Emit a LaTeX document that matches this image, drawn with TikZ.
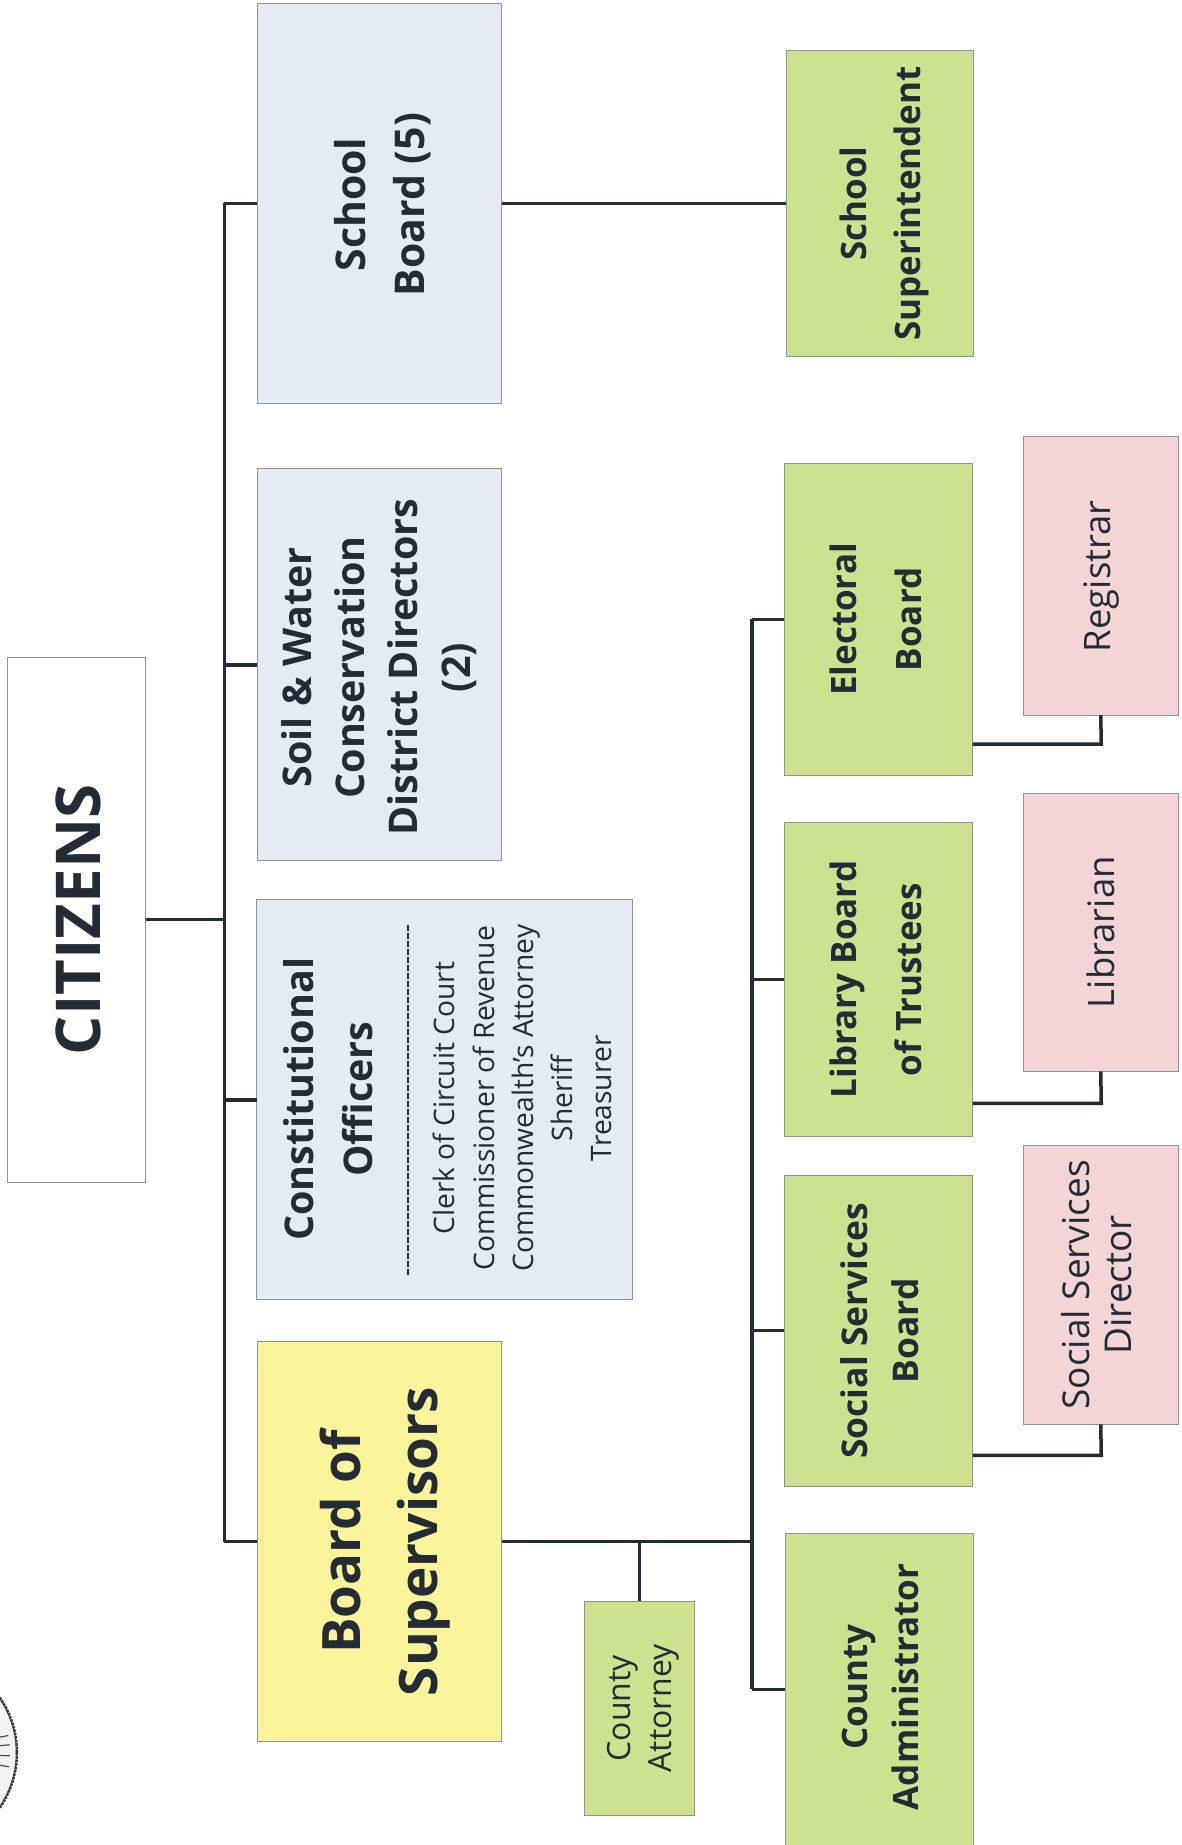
\documentclass[tikz,border=0pt]{standalone}
\usepackage{fontspec}
\setmainfont{Open Sans}
\definecolor{ink}{HTML}{232C35}
\definecolor{edge}{HTML}{8F9499}
\definecolor{bluebox}{HTML}{E4EBF3}
\definecolor{yelbox}{HTML}{FBF49B}
\definecolor{grnbox}{HTML}{CDE28F}
\definecolor{pinkbox}{HTML}{F3D5D5}
\newcommand{\fsz}[2]{\fontsize{#1pt}{#2pt}\selectfont}
% \bx{name}{style}{x1}{y1}{x2}{y2}{text options}{text}
\newcommand{\bx}[8]{%
  \pgfmathsetmacro{\bw}{(#6-#4)*0.9975}\pgfmathsetmacro{\bh}{(#5-#3)*0.9975}%
  \node[boxbase,#2,minimum width=\bw pt,minimum height=\bh pt] (#1) at ({(#3+#5)/2},{(#4+#6)/2}) {};
  \node[#7,rottext] (#1text) at (#1.center) {#8};}
\tikzset{
  boxbase/.style={draw=edge,line width=1pt,rotate=90,inner sep=0pt,outer sep=0pt},
  blue/.style={fill=bluebox},
  yel/.style={fill=yelbox},
  grn/.style={fill=grnbox},
  pnk/.style={fill=pinkbox},
  wire/.style={draw=ink,line width=3.5pt,line cap=butt,line join=miter},
  rottext/.style={rotate=90,align=center,text=ink,inner sep=0pt},
}
\begin{document}
\begin{tikzpicture}[x=0.9975pt,y=-0.9975pt]
\useasboundingbox (0,0) rectangle (1184,1849.6);
\fill[white] (0,0) rectangle (1184,1849.6);
% seal fragment
\begin{scope}
\clip (0,1680) rectangle (30,1820);
\fill[black!5] (-80,1757) circle (97);
\draw[black!80,line width=2.5pt,densely dotted] (-80,1757) circle (97);
\draw[black!75,line width=1pt] (-80,1757) circle (96.5);
\foreach \a in {-11,-5,2,9}{\draw[black!70,line width=1.2pt] (-80,1757) ++(\a:80) -- ++(\a:10);}
\end{scope}
% coordinates of buses
\coordinate (bus) at (225,900);
\coordinate (bus2) at (754,1200);
% boxes
\bx{citizens}{fill=white}{8}{659}{146}{1185}{font=\fsz{61.8}{72}\bfseries,xshift=2pt}{CITIZENS}
\bx{school}{blue}{258}{4}{503}{404}{font=\fsz{41}{59}\bfseries,xshift=3pt,yshift=-1pt}{School\\Board (5)}
\bx{soil}{blue}{258}{470}{503}{863}{font=\fsz{39.5}{53}\bfseries,xshift=0pt,yshift=-2.5pt}{Soil \& Water\\Conservation\\District Directors\\(2)}
\node[boxbase,blue,minimum width=400pt,minimum height=376pt] (const) at (446,1102.5) {};
\bx{bos}{yel}{258}{1345}{503}{1746}{font=\fsz{53}{77}\bfseries,xshift=6pt}{Board of\\Supervisors}
\bx{attorney}{grn}{586}{1605}{696}{1820}{font=\fsz{32}{41},xshift=3.5pt}{County\\Attorney}
\bx{admin}{grn}{787}{1537}{976}{1850}{font=\fsz{35}{50.5}\bfseries,xshift=1pt,yshift=2.4pt}{County\\Administrator}
\bx{ssb}{grn}{786}{1178}{975}{1490}{font=\fsz{35.4}{51}\bfseries,xshift=1pt}{Social Services\\Board}
\bx{lib}{grn}{786}{825}{975}{1139}{font=\fsz{35}{65}\bfseries,xshift=-2pt}{Library Board\\of Trustees}
\bx{elec}{grn}{786}{465}{975}{777}{font=\fsz{35}{65}\bfseries,xshift=-2pt}{Electoral\\Board}
\bx{super}{grn}{788}{51}{976}{357}{font=\fsz{35}{54}\bfseries,xshift=4.5pt}{School\\Superintendent}
\bx{reg}{pnk}{1026}{438}{1181}{717}{font=\fsz{36.5}{40},xshift=1pt}{Registrar}
\bx{libn}{pnk}{1026}{795}{1181}{1074}{font=\fsz{36.5}{40},xshift=0pt}{Librarian}
\bx{ssd}{pnk}{1026}{1148}{1181}{1428}{font=\fsz{37}{42.5},xshift=-4pt}{Social Services\\Director}
% constitutional contents
\node[rottext,font=\fsz{39.5}{59}\bfseries] (ctitle) at (329,1102) {Constitutional\\Officers};
\coordinate (dash1) at (409,927);
\coordinate (dash2) at (409,1278);
\draw[ink,line width=1.5pt,dash pattern=on 6pt off 2pt] (dash1) -- (dash2);
\node[rottext,font=\fsz{28.2}{39.3}] (cdetail) at (524,1101) {Clerk of Circuit Court\\Commissioner of Revenue\\Commonwealth’s Attorney\\Sheriff\\Treasurer};
% connectors
\draw[wire] (school.north -| bus) -- (bos.north -| bus);
\draw[wire] (citizens.south) -- (citizens.south -| bus);
\draw[wire] (school.north) -- (school.north -| bus);
\draw[wire] (soil.north) -- (soil.north -| bus);
\draw[wire] (const.north) -- (const.north -| bus);
\draw[wire] (bos.north) -- (bos.north -| bus);
\draw[wire] (school.south) -- (super.north);
\draw[wire] (bos.south) -- (bos.south -| bus2);
\draw[wire] (attorney.east) -- (attorney.east |- bos.south);
\draw[wire] (elec.north -| bus2) -- (admin.north -| bus2);
\draw[wire] (elec.north) -- (elec.north -| bus2);
\draw[wire] (lib.north) -- (lib.north -| bus2);
\draw[wire] (ssb.north) -- (ssb.north -| bus2);
\draw[wire] (admin.north) -- (admin.north -| bus2);
\coordinate (jr) at (1104,746);
\coordinate (jl) at (1104,1106);
\coordinate (js) at (1104,1459);
\draw[wire] (reg.west) -- (jr) -- (elec.south |- jr);
\draw[wire] (libn.west) -- (jl) -- (lib.south |- jl);
\draw[wire] (ssd.west) -- (js) -- (ssb.south |- js);
\end{tikzpicture}
\end{document}
